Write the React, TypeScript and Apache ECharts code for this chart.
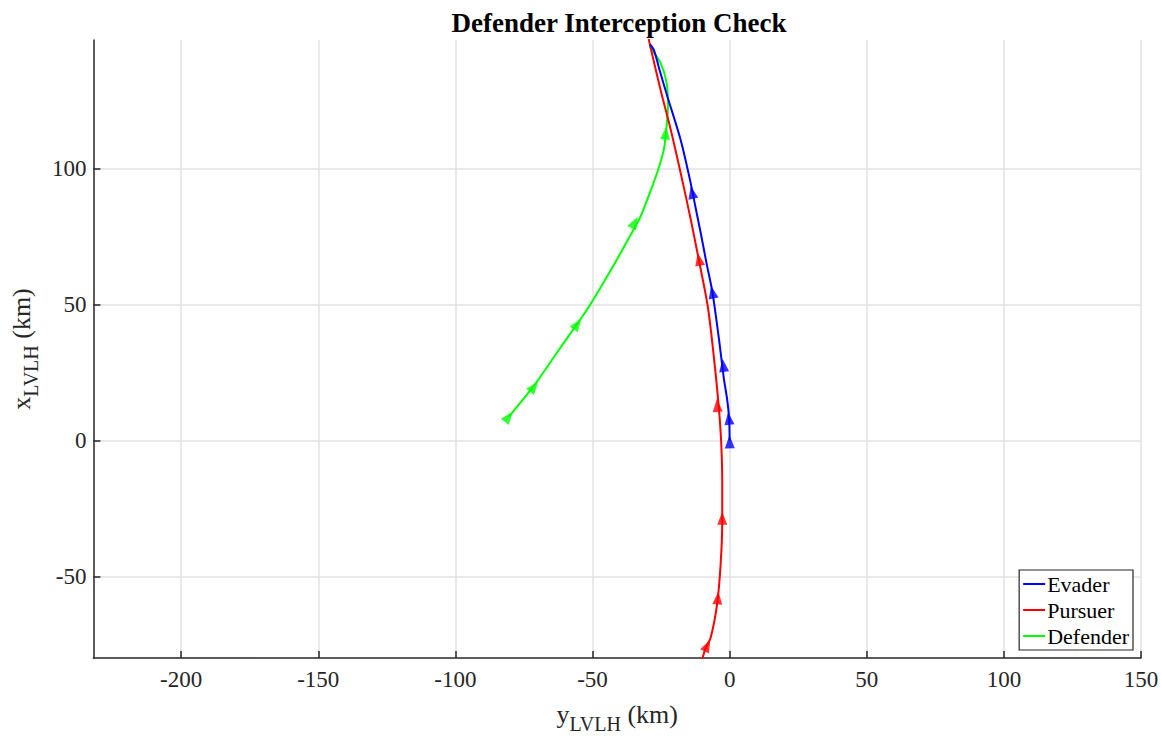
import React, { useEffect, useRef } from "react";
import * as echarts from "echarts";

// [y_LVLH (km), x_LVLH (km)] pairs
const evaderPath: number[][] = [
  [0, 0], [-0.2, 8.1], [-0.9, 15], [-2.1, 22.7], [-3.9, 37.3], [-6.3, 54.6],
  [-8.4, 65], [-10.4, 75.5], [-12.5, 86], [-14.4, 95.5], [-17.9, 110.6],
  [-22.7, 126.4], [-25.5, 136], [-27.6, 143.5], [-29.0, 145.6],
];
const pursuerPath: number[][] = [
  [-10.6, -82.4], [-9.8, -79.8], [-8.7, -76.2], [-6.9, -72.5], [-4.6, -60.4],
  [-3.3, -45.8], [-2.7, -29.7], [-2.7, -15.0], [-3.1, -0.4], [-4.0, 12.8],
  [-5.8, 31.1], [-8.0, 49.4], [-11.3, 66.7], [-14.2, 81.3], [-17.9, 98.5],
  [-21.5, 114.3], [-25.2, 128.9], [-29.2, 146.1], [-29.6, 148.0],
];
const defenderPath: number[][] = [
  [-80.5, 8.7], [-71.3, 20.2], [-62.8, 32.5], [-54.3, 44.7], [-50.3, 50.8],
  [-42.4, 64.2], [-34.3, 78.8], [-32.4, 82.5], [-30.0, 88.6], [-26.4, 98.5],
  [-24.0, 106.9], [-23.0, 115.5], [-22.5, 122.8], [-23.0, 131.5], [-25.2, 138.8],
  [-28.8, 144.2], [-29.2, 145.2],
];

const evaderArrows: number[][] = [[0, -0.5], [-0.3, 8.1], [-2.3, 27.6], [-6.3, 54.5], [-13.7, 91.2]];
const pursuerArrows: number[][] = [[-8.1, -75.4], [-4.3, -57.9], [-2.7, -28.6], [-4.5, 12.9], [-11.2, 66.6]];
const defenderArrows: number[][] = [[-80.5, 8.7], [-71.3, 19.7], [-55.5, 42.8], [-34.6, 80.1], [-23.3, 113]];

const seriesNames = ["Evader", "Pursuer", "Defender"];
const seriesColors = ["#0000ff", "#ff0000", "#00ff00"];

const X_MIN = -232;
const X_MAX = 150;
const Y_MIN = -80;
const Y_MAX = 147.2;

const FONT = "Liberation Serif";

function arrowRotation(path: number[][], p: number[]): number {
  let best = 0;
  let bestD = Infinity;
  for (let i = 0; i < path.length - 1; i++) {
    const mx = (path[i][0] + path[i + 1][0]) / 2;
    const my = (path[i][1] + path[i + 1][1]) / 2;
    const d = (mx - p[0]) ** 2 + (my - p[1]) ** 2;
    if (d < bestD) {
      bestD = d;
      best = i;
    }
  }
  const dx = path[best + 1][0] - path[best][0];
  const dy = path[best + 1][1] - path[best][1];
  return (-Math.atan2(dx, dy) * 180) / Math.PI;
}

export default function App() {
  const ref = useRef<HTMLDivElement>(null);

  useEffect(() => {
    if (!ref.current) return;
    const chart = echarts.init(ref.current, undefined, { renderer: "svg" });
    const paths = [evaderPath, pursuerPath, defenderPath];
    const arrows = [evaderArrows, pursuerArrows, defenderArrows];

    const lineSeries: any[] = paths.map((path, i) => ({
      name: seriesNames[i],
      type: "line",
      data: path,
      showSymbol: false,
      symbol: "none",
      smooth: 0.3,
      lineStyle: { color: seriesColors[i], width: 2 },
      itemStyle: { color: seriesColors[i] },
      z: 3 - i,
    }));
    const arrowSeries: any[] = arrows.map((pts, i) => ({
      name: seriesNames[i] + " arrows",
      type: "scatter",
      data: pts.map((p) => ({ value: p, symbolRotate: arrowRotation(paths[i], p) })),
      symbol: "triangle",
      symbolSize: [10, 13],
      itemStyle: { color: seriesColors[i] },
      z: 4,
      silent: true,
    }));

    const nameRich = {
      a: { fontFamily: FONT, fontSize: 26, color: "#262626" },
      s: { fontFamily: FONT, fontSize: 20, color: "#262626", padding: [20, 0, 0, 0] },
    };

    chart.setOption({
      animation: false,
      backgroundColor: "#ffffff",
      textStyle: { fontFamily: FONT },
      title: {
        text: "Defender Interception Check",
        left: 614,
        textAlign: "center",
        top: 4,
        textStyle: { fontFamily: FONT, fontWeight: "bold", fontSize: 27, color: "#000" },
      },
      grid: { left: 93, right: 21, top: 40, bottom: 79, containLabel: false },
      legend: {
        data: seriesNames,
        orient: "vertical",
        right: 29,
        top: 570,
        icon: "rect",
        itemWidth: 22,
        itemHeight: 2,
        itemGap: 4,
        padding: [3, 4, 3, 4],
        backgroundColor: "#ffffff",
        borderColor: "#262626",
        borderWidth: 1.2,
        textStyle: { fontFamily: FONT, fontSize: 22, color: "#000", padding: [0, 0, 0, -3], lineHeight: 22 },
      },
      xAxis: {
        type: "value",
        min: X_MIN,
        max: X_MAX,
        splitNumber: 8,
        name: "{a|y}{s|LVLH}{a| (km)}",
        nameLocation: "middle",
        nameGap: 36,
        nameTextStyle: { rich: nameRich },
        axisLine: { show: true, onZero: false, lineStyle: { color: "#262626", width: 1.5 } },
        axisTick: { show: true, inside: true, length: 7, lineStyle: { color: "#262626", width: 1.5 } },
        axisLabel: {
          fontFamily: FONT,
          fontSize: 23,
          color: "#262626",
          margin: 10,
          showMinLabel: false,
          showMaxLabel: true,
        },
        splitLine: { show: true, showMinLine: false, lineStyle: { color: "#e2e2e2", width: 1.5 } },
      },
      yAxis: {
        type: "value",
        min: Y_MIN,
        max: Y_MAX,
        splitNumber: 5,
        name: "{a|x}{s|LVLH}{a| (km)}",
        nameLocation: "middle",
        nameGap: 46,
        nameRotate: 90,
        nameTextStyle: { rich: nameRich },
        axisLine: { show: true, onZero: false, lineStyle: { color: "#262626", width: 1.5 } },
        axisTick: { show: true, inside: true, length: 7, lineStyle: { color: "#262626", width: 1.5 } },
        axisLabel: {
          fontFamily: FONT,
          fontSize: 23,
          color: "#262626",
          margin: 7,
          showMinLabel: false,
          showMaxLabel: false,
        },
        splitLine: { show: true, showMinLine: false, showMaxLine: false, lineStyle: { color: "#e2e2e2", width: 1.5 } },
      },
      series: [...lineSeries, ...arrowSeries],
    });

    return () => chart.dispose();
  }, []);

  return <div ref={ref} style={{ width: 1162, height: 739, position: "absolute", left: 0, top: 0 }} />;
}
